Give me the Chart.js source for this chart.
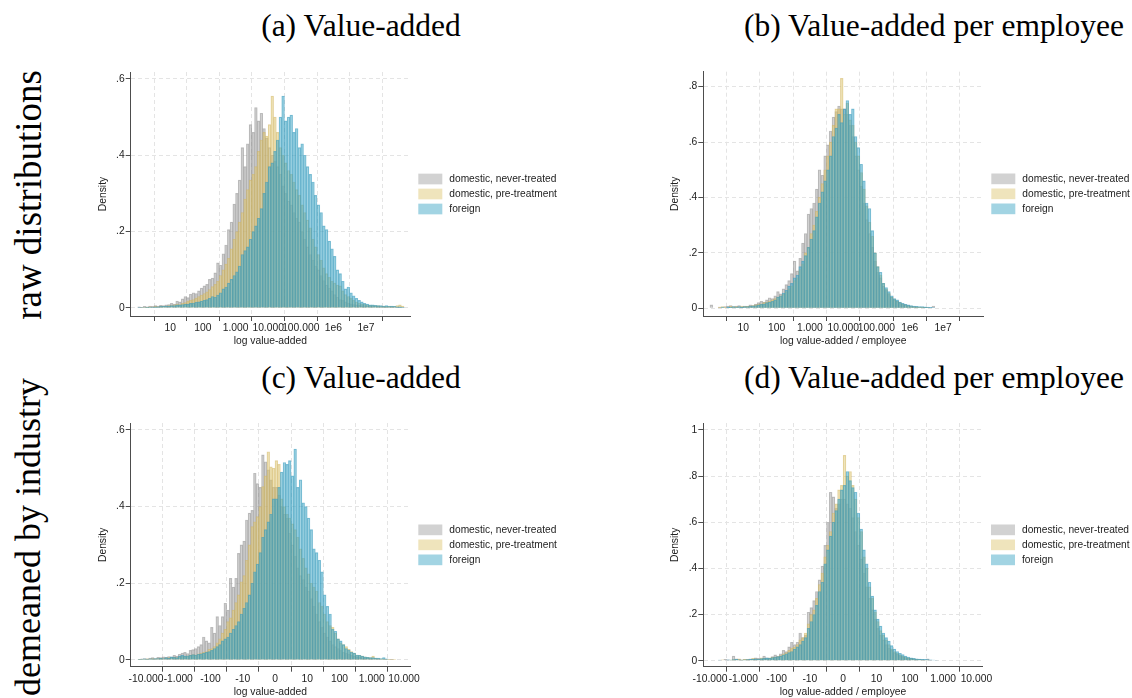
<!DOCTYPE html>
<html lang="en">
<head>
<meta charset="UTF-8">
<title>Value-added distributions</title>
<script src="https://cdn.jsdelivr.net/npm/chart.js"></script>
<style>
  html, body { margin: 0; padding: 0; background: #fff; overflow: hidden; }
  body { width: 1132px; height: 698px; position: relative; }
  canvas { position: absolute; }
  .ttl { position: absolute; font-family: "Liberation Serif", serif; font-size: 31.5px; color: #000;
         white-space: nowrap; transform: translate(-50%, -50%); }
  .row { position: absolute; font-family: "Liberation Serif", serif; font-size: 36px; color: #000;
         white-space: nowrap; transform: translate(-50%, -50%) rotate(-90deg); }
</style>
</head>
<body>
<div class="ttl" style="left:361px; top:26px">(a) Value-added</div>
<div class="ttl" style="left:934px; top:26px">(b) Value-added per employee</div>
<div class="ttl" style="left:361px; top:378px">(c) Value-added</div>
<div class="ttl" style="left:934px; top:378px">(d) Value-added per employee</div>
<div class="row" style="left:28px; top:195px; font-size:37px">raw distributions</div>
<div class="row" style="left:28px; top:537px">demeaned by industry</div>

<canvas id="chartA"></canvas>
<canvas id="chartB"></canvas>
<canvas id="chartC"></canvas>
<canvas id="chartD"></canvas>

<script>
  // Series names
  const seriesNames = ['domestic, never-treated', 'domestic, pre-treatment', 'foreign'];

  // Bins: 12 per axis unit (log10 for the raw panels, signed log for the demeaned ones)
  const binWidth = 1 / 12;
  const binStartRaw = 0;
  const binStartDemeanedVa = -4.25;
  const binStartDemeanedEmp = -4;

  // Axis ticks and labels
  const ticksLog = [0, 1, 2, 3, 4, 5, 6, 7, 8];
  const labelsLog = ['', '10', '100', '1.000', '10.000', '100.000', '1e6', '1e7', ''];
  const ticksSym = [-4, -3, -2, -1, 0, 1, 2, 3, 4];
  const labelsSym = ['-10.000', '-1.000', '-100', '-10', '0', '10', '100', '1.000', '10.000'];
  const densTicks6 = [0, 0.2, 0.4, 0.6];
  const densLabels6 = ['0', '.2', '.4', '.6'];
  const densTicks8 = [0, 0.2, 0.4, 0.6, 0.8];
  const densLabels8 = ['0', '.2', '.4', '.6', '.8'];
  const densTicks10 = [0, 0.2, 0.4, 0.6, 0.8, 1];
  const densLabels10 = ['0', '.2', '.4', '.6', '.8', '1'];

  // (a) log value-added
  const vaNever = [
    0.003,0.002,0.004,0.003,0.005,0.004,0.006,0.005,0.007,0.006,0.008,0.009,
    0.012,0.010,0.018,0.016,0.024,0.030,0.027,0.036,0.040,0.038,0.045,0.052,
    0.058,0.062,0.075,0.078,0.092,0.118,0.112,0.142,0.165,0.205,0.225,0.272,
    0.300,0.335,0.420,0.370,0.430,0.480,0.460,0.525,0.490,0.510,0.470,0.445,
    0.420,0.400,0.385,0.370,0.350,0.320,0.300,0.280,0.270,0.250,0.235,0.225,
    0.200,0.180,0.160,0.140,0.125,0.110,0.100,0.085,0.072,0.060,0.052,0.045,
    0.035,0.028,0.022,0.020,0.016,0.013,0.011,0.009,0.008,0.007,0.006,0.006,
    0.005,0.005,0.004,0.004,0.004,0.003,0.003,0.003,0.002,0.003,0.002,0.002,0.002,0.001];
  const vaPre = [
    0,0.001,0.002,0.002,0.003,0.002,0.004,0.003,0.004,0.005,0.004,0.006,
    0.006,0.008,0.010,0.009,0.012,0.014,0.018,0.020,0.022,0.026,0.030,0.034,
    0.038,0.042,0.048,0.056,0.062,0.070,0.085,0.100,0.115,0.130,0.155,0.180,
    0.200,0.225,0.250,0.285,0.310,0.335,0.350,0.370,0.410,0.440,0.460,0.450,
    0.480,0.555,0.500,0.460,0.420,0.400,0.380,0.360,0.350,0.330,0.310,0.295,
    0.270,0.250,0.230,0.210,0.180,0.160,0.140,0.125,0.105,0.090,0.080,0.070,
    0.065,0.060,0.058,0.045,0.035,0.030,0.025,0.020,0.016,0.013,0.011,0.010,
    0.008,0.007,0.007,0.006,0.006,0.005,0.005,0.004,0.005,0.004,0.004,0.006,0.008,0.005];
  const vaForeign = [
    0.001,0.001,0.001,0.002,0.002,0.002,0.003,0.003,0.004,0.004,0.005,0.005,
    0.006,0.006,0.008,0.008,0.009,0.010,0.010,0.012,0.013,0.015,0.016,0.018,
    0.020,0.022,0.025,0.030,0.028,0.034,0.040,0.050,0.055,0.065,0.075,0.085,
    0.095,0.110,0.140,0.150,0.160,0.180,0.200,0.215,0.235,0.260,0.300,0.330,
    0.370,0.380,0.410,0.440,0.500,0.555,0.490,0.500,0.505,0.460,0.470,0.420,
    0.430,0.400,0.370,0.350,0.330,0.295,0.270,0.250,0.215,0.205,0.175,0.155,
    0.135,0.100,0.090,0.070,0.050,0.055,0.040,0.032,0.025,0.020,0.016,0.012,
    0.010,0.008,0.008,0.007,0.006,0.006,0.005,0.006,0.004,0.005,0.004,0.003,0.003,0.002];

  // (b) log value-added per employee
  const vaEmpNever = [
    0.012,0,0,0.004,0,0.006,0.008,0.010,0.006,0.008,0.010,0.005,
    0.008,0.007,0.012,0.010,0.015,0.020,0.025,0.022,0.030,0.038,0.035,0.045,
    0.060,0.052,0.070,0.085,0.100,0.125,0.170,0.135,0.180,0.235,0.270,0.340,
    0.360,0.380,0.430,0.500,0.480,0.550,0.590,0.640,0.690,0.710,0.730,0.720,
    0.720,0.700,0.660,0.620,0.550,0.500,0.440,0.380,0.320,0.270,0.220,0.170,
    0.130,0.110,0.080,0.065,0.050,0.040,0.030,0.025,0.020,0.016,0.013,0.010,
    0.008,0.006,0.005,0.004,0.004,0.003,0.003,0.002,0.008,0,0,0,
    0,0,0,0,0,0,0,0,0,0,0,0,0,0];
  const vaEmpPre = [
    0,0,0,0.004,0.006,0.004,0,0.008,0.005,0.006,0.004,0.008,
    0.006,0.008,0.007,0.010,0.012,0.014,0.016,0.020,0.022,0.026,0.030,0.035,
    0.040,0.045,0.050,0.060,0.070,0.080,0.100,0.110,0.140,0.160,0.200,0.220,
    0.270,0.300,0.350,0.400,0.450,0.500,0.550,0.600,0.660,0.720,0.720,0.830,
    0.700,0.740,0.680,0.660,0.600,0.550,0.490,0.430,0.370,0.310,0.260,0.200,
    0.150,0.120,0.090,0.070,0.055,0.040,0.032,0.025,0.020,0.015,0.012,0.010,
    0.008,0.006,0.005,0.004,0.003,0.003,0.002,0,0,0,0,0,
    0,0,0,0,0,0,0,0,0,0,0,0,0,0];
  const vaEmpForeign = [
    0,0,0,0,0.004,0,0.005,0.003,0.006,0.004,0.006,0.005,
    0.006,0.006,0.008,0.009,0.010,0.012,0.014,0.016,0.020,0.022,0.025,0.030,
    0.040,0.045,0.055,0.065,0.080,0.090,0.110,0.120,0.150,0.170,0.190,0.220,
    0.250,0.280,0.330,0.380,0.420,0.460,0.500,0.550,0.620,0.650,0.700,0.670,
    0.720,0.750,0.700,0.720,0.620,0.580,0.520,0.460,0.380,0.360,0.280,0.200,
    0.150,0.130,0.090,0.075,0.060,0.045,0.035,0.030,0.022,0.018,0.014,0.012,
    0.010,0.008,0.007,0.006,0.006,0.005,0.004,0.003,0.002,0,0,0,
    0,0,0,0,0,0,0,0,0,0,0,0,0,0];

  // (c) value-added demeaned by industry
  const dmVaNever = [
    0.002,0.003,0.004,0.003,0.005,0.006,0.004,0.007,0.006,0.008,0.007,0.009,
    0.008,0.012,0.010,0.015,0.018,0.020,0.017,0.025,0.027,0.030,0.035,0.040,
    0.060,0.050,0.045,0.085,0.070,0.113,0.090,0.113,0.148,0.130,0.213,0.190,
    0.213,0.278,0.300,0.310,0.365,0.383,0.390,0.487,0.460,0.450,0.535,0.517,
    0.496,0.470,0.450,0.450,0.430,0.400,0.380,0.370,0.330,0.300,0.270,0.240,
    0.220,0.210,0.190,0.180,0.160,0.140,0.120,0.100,0.085,0.070,0.060,0.050,
    0.040,0.035,0.030,0.025,0.020,0.018,0.015,0.012,0.010,0.008,0.007,0.006,
    0.005,0.005,0.004,0.004,0.003,0.003,0.002,0.002,0.002,0.001,0.001,0];
  const dmVaPre = [
    0.001,0.002,0.002,0.003,0.002,0.004,0.003,0.004,0.005,0.004,0.005,0.006,
    0.006,0.007,0.006,0.008,0.010,0.009,0.011,0.012,0.014,0.013,0.016,0.018,
    0.020,0.022,0.028,0.030,0.035,0.045,0.055,0.070,0.080,0.100,0.110,0.130,
    0.150,0.170,0.204,0.220,0.260,0.300,0.348,0.360,0.374,0.400,0.452,0.480,
    0.543,0.504,0.500,0.520,0.510,0.420,0.400,0.380,0.370,0.355,0.340,0.320,
    0.290,0.265,0.240,0.225,0.200,0.190,0.180,0.150,0.140,0.120,0.100,0.090,
    0.085,0.070,0.055,0.045,0.040,0.035,0.028,0.022,0.018,0.013,0.012,0.010,
    0.008,0.007,0.006,0.010,0.005,0.004,0.003,0.003,0.002,0.002,0.001,0.001];
  const dmVaForeign = [
    0.002,0.002,0.003,0.002,0.003,0.003,0.004,0.004,0.005,0.004,0.006,0.005,
    0.008,0.007,0.006,0.010,0.012,0.010,0.011,0.012,0.014,0.013,0.015,0.016,
    0.018,0.020,0.022,0.025,0.030,0.035,0.040,0.050,0.055,0.060,0.070,0.080,
    0.090,0.100,0.120,0.135,0.150,0.170,0.200,0.230,0.250,0.280,0.320,0.340,
    0.360,0.380,0.420,0.420,0.450,0.490,0.515,0.510,0.520,0.480,0.550,0.450,
    0.470,0.410,0.400,0.370,0.340,0.290,0.280,0.260,0.230,0.170,0.140,0.120,
    0.080,0.075,0.055,0.050,0.040,0.030,0.026,0.020,0.018,0.013,0.012,0.010,
    0.008,0.007,0.006,0.006,0.005,0.005,0.004,0.006,0.003,0,0,0];

  // (d) value-added per employee demeaned by industry
  const dmEmpNever = [
    0,0,0,0,0,0.006,0.004,0.003,0.020,0.008,0.006,0.004,
    0.005,0.006,0.008,0.006,0.012,0.010,0.008,0.020,0.012,0.010,0.018,0.025,
    0.020,0.030,0.045,0.040,0.060,0.080,0.070,0.080,0.120,0.100,0.110,0.210,
    0.230,0.260,0.300,0.350,0.410,0.500,0.600,0.730,0.710,0.660,0.680,0.700,
    0.700,0.680,0.660,0.620,0.560,0.500,0.440,0.380,0.320,0.270,0.220,0.180,
    0.140,0.110,0.090,0.070,0.055,0.045,0.035,0.028,0.022,0.018,0.014,0.011,
    0.010,0.008,0.007,0.006,0.005,0.004,0.008,0.002,0,0,0,0];
  const dmEmpPre = [
    0,0,0,0,0.004,0,0,0.003,0.005,0.004,0.008,0.003,
    0.006,0.005,0.004,0.010,0.008,0.006,0.012,0.010,0.008,0.012,0.015,0.015,
    0.018,0.022,0.030,0.035,0.045,0.055,0.060,0.070,0.090,0.100,0.120,0.160,
    0.200,0.220,0.270,0.330,0.380,0.450,0.500,0.560,0.640,0.680,0.740,0.760,
    0.890,0.800,0.820,0.760,0.700,0.620,0.560,0.450,0.400,0.320,0.270,0.210,
    0.170,0.130,0.110,0.090,0.070,0.050,0.040,0.032,0.025,0.020,0.016,0.012,
    0.010,0.008,0.006,0.005,0.004,0.003,0.002,0,0,0,0,0];
  const dmEmpForeign = [
    0,0,0,0.003,0,0,0.004,0.003,0.005,0.006,0.004,0.003,
    0.004,0.005,0.006,0.007,0.008,0.007,0.009,0.010,0.012,0.011,0.014,0.016,
    0.018,0.020,0.025,0.030,0.035,0.040,0.050,0.060,0.070,0.085,0.100,0.140,
    0.170,0.200,0.240,0.300,0.340,0.420,0.480,0.540,0.600,0.650,0.700,0.740,
    0.760,0.820,0.780,0.750,0.730,0.640,0.570,0.480,0.420,0.340,0.280,0.220,
    0.180,0.150,0.120,0.100,0.085,0.065,0.050,0.040,0.032,0.026,0.020,0.016,
    0.012,0.010,0.008,0.007,0.006,0.006,0.005,0.004,0.003,0.002,0,0];

  // Styling
  const fillColors = ['rgba(160,160,160,0.48)', 'rgba(222,198,115,0.48)', 'rgba(70,170,200,0.5)'];
  const edgeColors = ['rgba(140,140,140,0.5)', 'rgba(205,175,90,0.5)', 'rgba(50,150,185,0.55)'];
  const axisColor = '#4d4d4d';
  const gridColor = '#e4e4e4';
  const textColor = '#222';

  Chart.defaults.font.family = '"Liberation Sans", Arial, sans-serif';
  Chart.defaults.font.size = 10.3;
  Chart.defaults.color = textColor;

  // Stata-like legend to the right of the plot region
  const sideLegend = {
    id: 'sideLegend',
    afterDraw(chart) {
      const { ctx, chartArea } = chart;
      const sets = chart.data.datasets;
      const rowH = 15, boxW = 24, boxH = 10.7;
      const top = (chartArea.top + chartArea.bottom) / 2 - (rowH * (sets.length - 1) + boxH) / 2;
      ctx.save();
      ctx.font = '10.2px "Liberation Sans", Arial, sans-serif';
      ctx.textBaseline = 'middle';
      ctx.textAlign = 'left';
      sets.forEach((ds, i) => {
        const y = top + i * rowH;
        ctx.fillStyle = ds.backgroundColor;
        ctx.fillRect(chartArea.right + 8.3, y, boxW, boxH);
        ctx.fillStyle = textColor;
        ctx.fillText(ds.label, chartArea.right + 39.3, y + boxH / 2);
      });
      ctx.restore();
    }
  };

  function drawPanel(id, area, spec) {
    const canvas = document.getElementById(id);
    const left = Math.floor(area.l) - 90;
    const top = Math.floor(area.t) - 40;
    const right = Math.min(1132, Math.ceil(area.r) + 150);
    const bottom = Math.ceil(area.b) + 40;
    canvas.width = right - left;
    canvas.height = bottom - top;
    canvas.style.left = left + 'px';
    canvas.style.top = top + 'px';

    const lh = 10.3 * 1.2;
    const datasets = spec.series.map((vals, k) => ({
      label: seriesNames[k],
      data: vals.map((v, i) => ({ x: spec.binStart + (i + 0.5) * binWidth, y: v })),
      backgroundColor: fillColors[k],
      borderColor: edgeColors[k],
      borderWidth: 0.5,
      order: 3 - k,
      grouped: false,
      barPercentage: 1,
      categoryPercentage: 1
    }));

    return new Chart(canvas.getContext('2d'), {
      type: 'bar',
      data: { datasets },
      options: {
        responsive: false,
        animation: false,
        layout: { padding: { left: 0, top: area.t - top, right: right - area.r, bottom: 0 } },
        plugins: { legend: { display: false }, tooltip: { enabled: false } },
        scales: {
          x: {
            type: 'linear',
            min: spec.xMin, max: spec.xMax,
            offset: false,
            afterBuildTicks: s => { s.ticks = spec.xTicks.map(v => ({ value: v })); },
            afterFit: s => { s.height = bottom - area.b; },
            ticks: { autoSkip: false, maxRotation: 0, minRotation: 0, padding: 1,
                     callback: (v, i) => spec.xLabels[i] },
            grid: { color: gridColor, lineWidth: 1, tickLength: 5, tickColor: axisColor, tickWidth: 1 },
            border: { color: axisColor, width: 1, dash: [4, 3] },
            title: { display: true, text: spec.xTitle, color: textColor,
                     padding: { top: 0, bottom: bottom - (area.b + 25) - lh / 2 } }
          },
          y: {
            min: spec.yMin, max: spec.yMax,
            afterBuildTicks: s => { s.ticks = spec.yTicks.map(v => ({ value: v })); },
            afterFit: s => { s.width = area.l - left; },
            ticks: { padding: 1, callback: (v, i) => spec.yLabels[i] },
            grid: { color: gridColor, lineWidth: 1, tickLength: 5, tickColor: axisColor, tickWidth: 1 },
            border: { color: axisColor, width: 1, dash: [4, 3] },
            title: { display: true, text: 'Density', color: textColor,
                     padding: { top: (area.l - 28 - left) - lh / 2, bottom: 0 } }
          }
        }
      },
      plugins: [sideLegend]
    });
  }

  drawPanel('chartA', { l: 130.7, t: 72, r: 410, b: 316 }, {
    series: [vaNever, vaPre, vaForeign], binStart: binStartRaw,
    xMin: -0.215, xMax: 8.35, xTicks: ticksLog, xLabels: labelsLog, xTitle: 'log value-added',
    yMin: -0.021, yMax: 0.618, yTicks: densTicks6, yLabels: densLabels6
  });
  drawPanel('chartB', { l: 703.3, t: 71.7, r: 983, b: 316 }, {
    series: [vaEmpNever, vaEmpPre, vaEmpForeign], binStart: binStartRaw,
    xMin: -0.2, xMax: 8.2, xTicks: ticksLog, xLabels: labelsLog, xTitle: 'log value-added / employee',
    yMin: -0.028, yMax: 0.854, yTicks: densTicks8, yLabels: densLabels8
  });
  drawPanel('chartC', { l: 130.7, t: 423, r: 410, b: 666.7 }, {
    series: [dmVaNever, dmVaPre, dmVaForeign], binStart: binStartDemeanedVa,
    xMin: -4.474, xMax: 4.186, xTicks: ticksSym, xLabels: labelsSym, xTitle: 'log value-added',
    yMin: -0.0175, yMax: 0.618, yTicks: densTicks6, yLabels: densLabels6
  });
  drawPanel('chartD', { l: 703.3, t: 423, r: 982.7, b: 666.7 }, {
    series: [dmEmpNever, dmEmpPre, dmEmpForeign], binStart: binStartDemeanedEmp,
    xMin: -4.2, xMax: 4.19, xTicks: ticksSym, xLabels: labelsSym, xTitle: 'log value-added / employee',
    yMin: -0.026, yMax: 1.03, yTicks: densTicks10, yLabels: densLabels10
  });
</script>
</body>
</html>
